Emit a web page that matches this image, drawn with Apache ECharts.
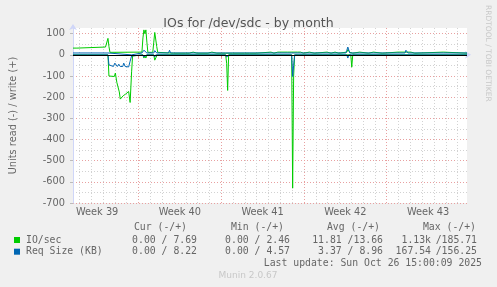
<!DOCTYPE html>
<html><head><meta charset="utf-8">
<script src="https://cdn.jsdelivr.net/npm/echarts@6/dist/echarts.min.js"></script>
<style>html,body{margin:0;padding:0;background:#F0F0F0}#c{width:497px;height:287px}</style>
</head><body><div id="c"></div>
<script>
// x values are hours since Mon 22 Sep 2025 00:00 (start of ISO week 39)
const weekLabels = ['Week 39', 'Week 40', 'Week 41', 'Week 42', 'Week 43'];
const weekCenters = [84, 252, 420, 588, 756];
const weekBounds = [168, 336, 504, 672];
const yTickValues = [-700, -600, -500, -400, -300, -200, -100, 0, 100];

// IO/sec, write (+)
const ioWrite = [[35,32],[43,32],[45,37],[101,37],[103,45],[106,78],[108,40],[110,12],[175,13],[177,80],[179,118],[181,100],[183,118],[185,60],[187,12],[197,12],[199,60],[201,106],[203,100],[205,40],[207,12],[211,8],
 [239,8],[241,13],[243,8],[263,8],[265,13],[267,8],[271,8],[273,13],[279,13],[281,8],[287,8],[289,13],[291,8],
 [309,8],[311,13],[317,13],[319,8],[327,8],[329,13],[331,8],[337,8],[339,13],[341,8],[359,8],[361,13],[363,8],
 [383,8],[385,13],[387,8],[393,8],[395,13],[397,8],[407,8],[409,13],[437,13],[439,8],[443,8],[445,13],[451,13],[453,8],
 [455,13],[471,13],[473,8],[475,13],[491,13],[493,8],[497,13],[501,13],[503,8],[505,8],[507,13],[515,13],[517,8],
 [525,8],[527,13],[551,13],[553,8],[559,8],[561,13],[567,13],[569,8],[575,8],[577,13],[591,13],[593,25],[595,32],[597,12],[599,8],
 [603,8],[605,13],[617,13],[619,8],[635,8],[637,13],[645,13],[647,8],[663,8],[665,13],[695,13],[697,8],[699,8],[701,13],[721,13],[723,8],
 [729,8],[731,13],[787,13],[789,8],[835,8]];
// IO/sec, read (-)
const ioRead = [[35,0],[106,0],[108,-100],[111,-105],[119,-102],[121,-86],[124,-130],[127,-125],[129,-175],[131,-209],[134,-200],[137,-193],[140,-201],[142,-185],[144,-190],[148,-173],[151,-225],[154,-80],[156,-5],[158,0],
 [177,0],[179,-15],[181,-5],[183,-15],[185,0],[199,0],[201,-25],[204,-30],[206,0],[345,0],[347,-40],[349,-168],[351,0],[479,0],[481,-630],[483,-100],[485,0],[599,0],[601,-58],[603,0],[835,0]];
// Req Size (KB), write (+)
const reqWrite = [[35,9],[106,9],[108,0],[154,0],[156,9],[175,9],[177,15],[179,22],[181,18],[183,22],[185,9],[199,9],[201,20],[203,20],[205,9],[229,9],[231,22],[233,9],
 [345,9],[347,4],[349,9],[479,9],[481,4],[483,9],[589,9],[591,22],[593,37],[595,28],[597,9],[709,9],[711,22],[713,14],[715,9],[835,9]];
// Req Size (KB), read (-)
const reqRead = [[35,0],[65,0],[67,-5],[69,0],[106,0],[108,-47],[111,-50],[117,-55],[120,-39],[123,-40],[125,-55],[128,-44],[131,-55],[136,-55],[138,-39],[141,-55],[148,-57],[151,-30],[154,-5],[156,0],
 [177,0],[179,-10],[181,-4],[183,-10],[185,0],[199,0],[201,-10],[203,0],[345,0],[347,-11],[349,-8],[351,0],[479,0],[481,-102],[483,-50],[485,0],[541,0],[543,-5],[545,0],[591,0],[593,-15],[595,0],[835,0]];

const legendHeader = ['Cur (-/+)', 'Min (-/+)', 'Avg (-/+)', 'Max (-/+)'];
const legendRows = [
  {name: 'IO/sec', color: '#00CC00', vals: ['0.00 / 7.69', '0.00 / 2.46', '11.81 /13.66', ['1.13k', '/185.71']]},
  {name: 'Req Size (KB)', color: '#0066B3', vals: ['0.00 / 8.22', '0.00 / 4.57', '3.37 / 8.96', ['167.54', '/156.25']]}
];

const days = [];
for (let h = 48; h <= 835; h += 24) if (h % 168 !== 0) days.push(h);
const yMinor = [];
for (let v = -650; v <= 100; v += 100) yMinor.push(v);

const FONT = 'DejaVu Sans';
const MONO = 'DejaVu Sans Mono';
const TXT = '#666666';
const red = '#E8A0A0', gray = '#D2D2D2', axisC = '#CFD6F8';

const chart = echarts.init(document.getElementById('c'), null, {renderer: 'canvas'});
const graphics = [];
const hdrX = [187, 284, 380, 476];
legendHeader.forEach((t, i) => graphics.push({type: 'text', x: hdrX[i], y: 227.5, style: {text: t, font: '9.8px ' + MONO, fill: TXT, align: 'right', verticalAlign: 'middle'}}));
const colRight = [197, 290, 383, 477];
legendRows.forEach((r, j) => {
  const y = 240 + j * 11.7;
  graphics.push({type: 'rect', shape: {x: 14, y: y - 3, width: 6, height: 6}, style: {fill: r.color}});
  graphics.push({type: 'text', x: 26, y: y, style: {text: r.name, font: '9.8px ' + MONO, fill: TXT, verticalAlign: 'middle'}});
  r.vals.forEach((v, i) => {
    if (Array.isArray(v)) {
      graphics.push({type: 'text', x: colRight[i] - 46, y: y, style: {text: v[0], font: '9.8px ' + MONO, fill: TXT, align: 'right', verticalAlign: 'middle'}});
      graphics.push({type: 'text', x: colRight[i], y: y, style: {text: v[1], font: '9.8px ' + MONO, fill: TXT, align: 'right', verticalAlign: 'middle'}});
    } else {
      graphics.push({type: 'text', x: colRight[i], y: y, style: {text: v, font: '9.8px ' + MONO, fill: TXT, align: 'right', verticalAlign: 'middle'}});
    }
  });
});
graphics.push({type: 'text', x: 482, y: 263.5, style: {text: 'Last update: Sun Oct 26 15:00:09 2025', font: '9.8px ' + MONO, fill: TXT, align: 'right', verticalAlign: 'middle'}});
graphics.push({type: 'text', x: 248, y: 276, style: {text: 'Munin 2.0.67', font: '9px ' + FONT, fill: '#C8C8C8', align: 'center', verticalAlign: 'middle'}});
graphics.push({type: 'text', x: 488, y: 5, rotation: -Math.PI / 2, style: {text: 'RRDTOOL / TOBI OETIKER', font: '7.5px ' + FONT, fill: '#C8C8C8', align: 'left', verticalAlign: 'middle'}});

const lineSeries = (name, data, color, extra) => Object.assign({
  type: 'line', name, data, showSymbol: false, symbol: 'none',
  lineStyle: {color, width: 1}, itemStyle: {color}, animation: false, xAxisIndex: 0, yAxisIndex: 0
}, extra || {});

chart.setOption({
  backgroundColor: '#F0F0F0',
  animation: false,
  title: {text: 'IOs for /dev/sdc - by month', left: 'center', top: 12, textStyle: {fontFamily: FONT, fontSize: 12.5, fontWeight: 'normal', color: '#555555'}},
  grid: {left: 67, top: 28, width: 400, height: 175, show: true, backgroundColor: '#FFFFFF', borderWidth: 0},
  xAxis: [
    {type: 'value', min: 35, max: 835, position: 'bottom',
     axisLine: {show: true, lineStyle: {color: axisC}, symbol: ['none', 'arrow'], symbolSize: [6, 6], symbolOffset: [0, 4]},
     axisTick: {show: true, customValues: weekBounds, length: 3, lineStyle: {color: '#E08080'}},
     splitLine: {show: true, lineStyle: {color: red, type: [1, 2]}},
     axisLabel: {customValues: weekCenters, formatter: v => weekLabels[weekCenters.indexOf(v)] || '', color: TXT, fontFamily: FONT, fontSize: 9.8, margin: 4}},
    {type: 'value', min: 35, max: 835, position: 'bottom', offset: 0,
     axisLine: {show: false},
     axisTick: {show: false, customValues: days},
     splitLine: {show: true, lineStyle: {color: gray, type: [1, 2]}},
     axisLabel: {show: false}}
  ],
  yAxis: [
    {type: 'value', min: -700, max: 127, position: 'left',
     axisLine: {show: true, lineStyle: {color: axisC}, symbol: ['none', 'arrow'], symbolSize: [6, 6], symbolOffset: [0, 4]},
     axisTick: {show: true, customValues: yTickValues, length: 3, lineStyle: {color: '#BBBBBB'}},
     splitLine: {show: true, lineStyle: {color: red, type: [1, 2]}},
     axisLabel: {customValues: yTickValues, color: TXT, fontFamily: FONT, fontSize: 9.8, margin: 8},
     name: 'Units read (-) / write (+)', nameLocation: 'middle', nameGap: 55, nameRotate: 90,
     nameTextStyle: {color: TXT, fontFamily: FONT, fontSize: 9.8}},
    {type: 'value', min: -700, max: 127, position: 'left', offset: 0,
     axisLine: {show: false}, axisTick: {show: false, customValues: yMinor},
     splitLine: {show: true, lineStyle: {color: gray, type: [1, 2]}}, axisLabel: {show: false}}
  ],
  series: [
    lineSeries('IO/sec write', ioWrite, '#00CC00', {markLine: {silent: true, symbol: 'none', animation: false, label: {show: false}, lineStyle: {color: '#000000', type: 'solid', width: 1}, data: [{yAxis: 0}]}}),
    lineSeries('IO/sec read', ioRead, '#00CC00'),
    lineSeries('Req Size write', reqWrite, '#0066B3'),
    lineSeries('Req Size read', reqRead, '#0066B3')
  ],
  graphic: graphics
});
</script></body></html>
